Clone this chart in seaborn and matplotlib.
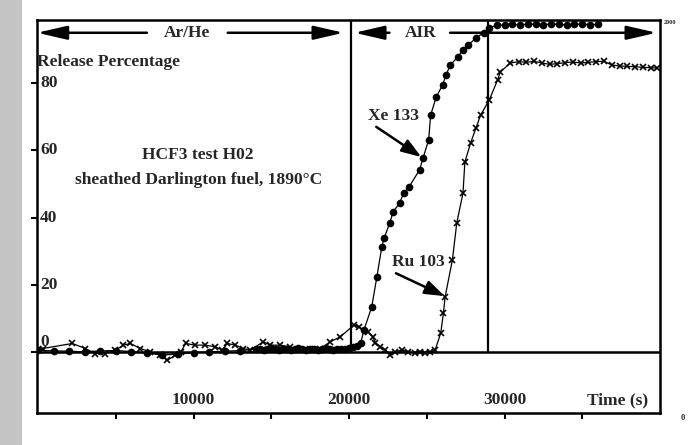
import numpy as np
import pandas as pd
import matplotlib.pyplot as plt
import seaborn as sns
from matplotlib.patches import Rectangle

# Xe 133 release (%) vs time (s)
xe_time = [0, 1000, 2000, 3000, 4000, 5000, 6000, 7000, 8000, 9000, 10000, 11000, 12000, 13000,
           14000, 14250, 14500, 14750, 15000, 15250, 15500, 15750, 16000, 16250, 16500, 16750, 17000, 17250,
           17500, 17750, 18000, 18250, 18500, 18750, 19000, 19250, 19500, 19750, 20000, 20250, 20500, 20750,
           20960, 21460, 21790, 22110, 22260, 22620, 22840, 23250, 23520, 23860, 24540, 24760, 25120, 25250,
           25610, 26020, 26230, 26520, 26990, 27330, 27670, 28190, 28650, 28980,
           29500, 30000, 30500, 31000, 31500, 32000, 32500, 33000, 33500, 34000, 34500, 35000, 35500, 36000]
xe_release = [0.5, 0.3, 0.2, 0.0, 0.3, 0.4, 0.1, -0.4, -0.9, -0.7, -0.2, 0.0, 0.2, 0.4,
              0.8, 1.0, 0.7, 0.9, 1.1, 0.8, 0.6, 0.9, 1.0, 0.7, 0.8, 1.1, 0.9, 0.6,
              0.8, 1.0, 0.7, 0.9, 1.2, 0.8, 0.6, 0.9, 1.0, 0.8, 1.1, 1.4, 1.8, 2.6,
              6.5, 13.4, 22.3, 31.3, 33.9, 38.4, 41.7, 44.3, 47.3, 49.1, 54.2, 57.7, 63.1, 70.5,
              75.9, 79.5, 82.4, 85.4, 87.8, 89.9, 91.4, 93.5, 95.0, 96.4,
              97.2, 97.4, 97.5, 97.3, 97.6, 97.5, 97.4, 97.6, 97.5, 97.3, 97.5, 97.6, 97.4, 97.5]

# Ru 103 release (%) vs time (s)
ru_time = [300, 2200, 3040, 3680, 4330, 4970, 5490, 5940, 6580, 7220,
           7860, 8310, 8830, 9180, 9500, 10110, 10760, 11400, 11850, 12170,
           12690, 13200, 13650, 14480, 14940, 15580, 16220, 16870, 17510, 18150,
           18800, 19440, 20330, 20640, 21220, 21520, 21700, 22020, 22330, 22640,
           22960, 23420, 23800, 24250, 24570, 24890, 25220, 25540, 25900, 26070,
           26180, 26650, 26930, 27330, 27450, 27820, 28170, 28460, 29020, 29560,
           29720, 30380, 30900, 31400, 31900, 32400, 32900, 33400, 33900, 34400,
           34900, 35400, 35900, 36400, 36900, 37400, 37900, 38400, 38900, 39400, 39800]
ru_release = [1.0, 2.5, 1.0, -0.5, -0.5, 0.5, 2.0, 2.5, 1.0, 0.0,
              -1.0, -2.5, -1.0, 0.0, 2.5, 2.0, 2.0, 1.5, 0.5, 2.5,
              2.0, 1.0, 0.5, 3.0, 2.0, 2.0, 1.5, 0.5, 0.8, 1.0,
              3.0, 4.5, 8.0, 7.4, 6.0, 4.5, 2.7, 1.5, 0.6, -0.9,
              0.0, 0.6, 0.0, -0.3, 0.0, -0.3, 0.0, 0.6, 5.6, 11.6,
              16.4, 27.4, 38.4, 47.3, 56.5, 62.2, 66.7, 70.5, 75.0, 81.0,
              83.3, 86.0, 86.4, 86.2, 86.5, 86.0, 85.6, 85.8, 86.1, 86.3,
              86.0, 86.2, 86.4, 86.5, 85.4, 85.1, 85.0, 84.9, 84.7, 84.6, 84.5]

phase_change = [20130, 28940]
x_ticks = [5000, 10000, 15000, 20000, 25000, 30000, 35000]
x_labels = [10000, 20000, 30000]
y_ticks = [0, 20, 40, 60, 80]

sns.set_style("white")
plt.rcParams["font.family"] = ["Liberation Serif", "DejaVu Serif"]
plt.rcParams["font.weight"] = "bold"

fig = plt.figure(figsize=(6.96, 4.45), dpi=100)
ax = fig.add_axes([36.5 / 696, 32 / 445, 623.5 / 696, 393 / 445])

xe = pd.DataFrame({"t": xe_time, "v": xe_release})
ru = pd.DataFrame({"t": ru_time, "v": ru_release})
sns.lineplot(data=xe, x="t", y="v", ax=ax, color="black", lw=0.9, marker="o",
             markersize=5.5, markeredgewidth=0, markeredgecolor="black", estimator=None)
sns.lineplot(data=ru, x="t", y="v", ax=ax, color="black", lw=0.9, marker="x",
             markersize=4.5, markeredgewidth=1.2, markeredgecolor="black", estimator=None)

ax.set_xlim(-100, 40000)
ax.set_ylim(-18.2, 98.8)
ax.axhline(0, color="black", lw=1.8)
ax.vlines(phase_change, 0, 98.8, color="black", lw=1.6)

for s in ax.spines.values():
    s.set_color("black")
    s.set_linewidth(1.8)

ax.set_xticks(x_ticks)
ax.set_xticklabels([])
ax.set_yticks(y_ticks)
ax.set_yticklabels([])
ax.tick_params(axis="both", direction="out", length=4, width=1.5, color="black",
               bottom=True, left=True)
ax.set_xlabel("")
ax.set_ylabel("")

fs = 12.5
for t in x_labels:
    ax.text(t, -14.4, str(t), ha="center", va="center", fontsize=fs, weight="bold")
ax.text(37300, -14.4, "Time (s)", ha="center", va="center", fontsize=fs, weight="bold")
for v in y_ticks[1:]:
    ax.text(120, v, str(v), ha="left", va="center", fontsize=fs, weight="bold")
ax.text(180, 2.8, "0", ha="left", va="center", fontsize=fs, weight="bold")
ax.text(-50, 86.3, "Release Percentage", ha="left", va="center", fontsize=fs, weight="bold")

ax.text(10300, 58.7, "HCF3 test H02", ha="center", va="center", fontsize=fs, weight="bold")
ax.text(10300, 51.2, "sheathed Darlington fuel, 1890°C", ha="center", va="center",
        fontsize=fs, weight="bold")

# gas phase arrows
arr = dict(arrowstyle="-|>,head_length=1.3,head_width=0.3", color="black", lw=1.8,
           mutation_scale=14, shrinkA=0, shrinkB=0)
ax.annotate("", xy=(-60, 95), xytext=(7000, 95), arrowprops=arr)
ax.annotate("", xy=(19650, 95), xytext=(12200, 95), arrowprops=arr)
ax.text(9600, 95, "Ar/He", ha="center", va="center", fontsize=fs, weight="bold")
ax.annotate("", xy=(20350, 95), xytext=(22600, 95), arrowprops=arr)
ax.annotate("", xy=(39780, 95), xytext=(26500, 95), arrowprops=arr)
ax.text(24600, 95, "AIR", ha="center", va="center", fontsize=fs, weight="bold")

# series labels
lab = dict(arrowstyle="-|>,head_length=1.0,head_width=0.35", color="black", lw=1.8,
           mutation_scale=12, shrinkA=0, shrinkB=0)
ax.text(22880, 70.2, "Xe 133", ha="center", va="center", fontsize=fs, weight="bold")
ax.annotate("", xy=(24650, 58.0), xytext=(21750, 67.0), arrowprops=lab)
ax.text(24430, 26.9, "Ru 103", ha="center", va="center", fontsize=fs, weight="bold")
ax.annotate("", xy=(26150, 16.6), xytext=(23020, 23.4), arrowprops=lab)

# bits of the scanned page
fig.text(670 / 696, 1 - 23 / 445, "2000", fontsize=4.5, ha="center", va="center")
fig.text(683 / 696, 1 - 418 / 445, "0", fontsize=6, ha="center", va="center")
fig.patches.append(Rectangle((0, 0), 22 / 696, 1, transform=fig.transFigure,
                             facecolor="#c4c4c4", edgecolor="none", zorder=0))

fig.savefig("out.png", dpi=100)
